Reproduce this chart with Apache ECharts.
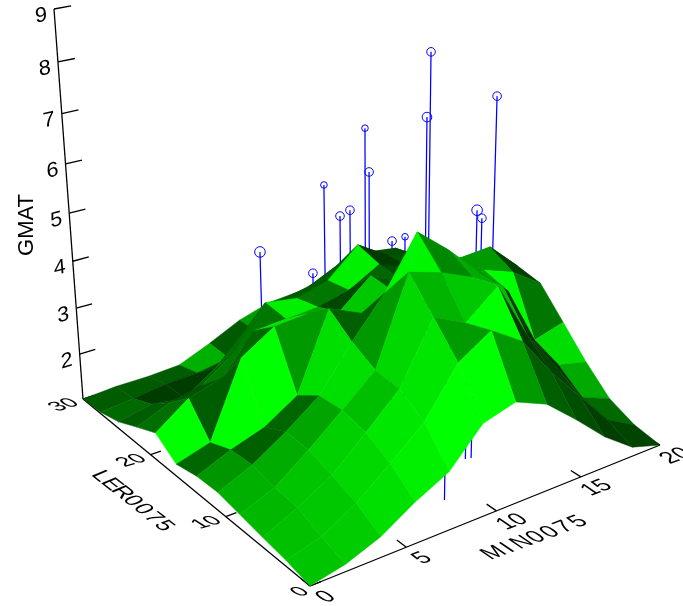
<!DOCTYPE html>
<html><head><meta charset="utf-8"><style>html,body{margin:0;background:#fff}#c{width:683px;height:606px}</style>
<script src="https://cdn.jsdelivr.net/npm/echarts@6/dist/echarts.min.js"></script></head><body><div id="c"></div><script>
const xTicks=[0,5,10,15,20], yTicks=[0,10,20,30], zTicks=[1,2,3,4,5,6,7,8,9];
const z0=[1,1.15,1.42,1.85,2.2,2.92,3.11,2.83,2.27,1.67,1.2,1];
const z1=[1.12,1.31,1.73,2.27,2.85,3.8,4.22,3.79,2.93,2.19,1.46,1.11];
const z2=[1.2,1.53,1.93,2.55,3.19,4.4,4.07,4.6,3.4,2.54,1.62,1.36];
const z3=[1.29,1.58,2.1,2.67,3.25,5,4.79,4.5,4.11,2.82,2.02,1.86];
const z4=[1.38,1.69,2.13,2.64,3.52,4.3,5.33,4.78,4.13,3.54,2.26,2.44];
const z5=[1.36,1.66,1.89,2.32,3.9,3.6,3.85,4,3.6,3.7,3.46,3.02];
const z6=[1.26,1.47,3.02,3.45,3.5,3.34,3.9,3.6,3.4,3.7,3.74,3.13];
const z7=[1.58,2.08,2.28,3.06,3.1,3.15,3.31,3.67,3.4,3.3,3.2,3];
const z8=[1.37,1.66,1.82,2.3,3.16,3.05,3.24,3.82,3.4,3.2,3,2.5];
const z9=[1.15,1.3,1.2,1.65,2.3,2.7,2.8,3.1,3.2,3.1,2.7,2.2];
const z10=[1.03,1.1,1.2,1.22,1.34,1.7,2,2.2,2.5,2.5,2.2,1.8];
const z11=[1,1.05,1.05,1.09,1.37,1.69,1.89,1.94,2.1,2.2,1.9,1.5];
const surface=[z0,z1,z2,z3,z4,z5,z6,z7,z8,z9,z10,z11];
const stemX=[13.67,16.16,12.33,12.44,11.38,13,11.96,13.81,11.84,12.06,12.76,12.26,8.84,12.18,12.77,11.68,8.68];
const stemY=[15.05,12.37,12.78,20.26,17.53,26.81,6.47,9.36,20.9,22.66,16.04,16.58,26.12,26.64,16.03,6.59,3.14];
const stemZ=[8.25,7.4,7.28,6.44,5.88,4.63,6.07,5.46,4.74,4.43,4.55,4.46,3.65,2.77,3.96,4.32,4.06];
const stemSize=[4.3,4.3,4.8,3.3,4.3,3.3,5.3,4.3,4.3,4.3,3.3,4.3,5.3,4.3,3.3,3.3,3.3];
// green level of a cell: "i,j":level
const cellShade={"0,0":196,"1,0":204,"2,0":224,"3,0":240,"4,0":255,"5,0":255,"6,0":153,"7,0":95,"8,0":79,"9,0":63,"10,0":68,
"0,1":192,"1,1":200,"2,1":216,"3,1":232,"4,1":230,"5,1":155,"6,1":255,"7,1":58,"8,1":68,"9,1":60,"10,1":106,
"0,2":184,"1,2":196,"2,2":208,"3,2":190,"4,2":216,"5,2":180,"6,2":200,"7,2":190,"8,2":48,"9,2":48,"10,2":170,
"0,3":176,"1,3":172,"2,3":165,"3,3":224,"4,3":153,"5,3":245,"6,3":136,"7,3":170,"8,3":48,"9,3":44,"10,3":221,
"0,4":150,"1,4":96,"2,4":102,"3,4":224,"4,4":96,"5,4":170,"6,4":150,"7,4":160,"8,4":160,"9,4":255,"10,4":119,
"0,5":102,"1,5":255,"2,5":255,"3,5":153,"4,5":170,"5,5":200,"9,5":153,"8,5":153,"10,5":64,
"0,6":255,"1,6":92,"2,6":102,"3,6":230,"4,6":165,"5,6":72,"9,6":153,"10,6":60,
"0,7":110,"1,7":84,"2,7":120,"3,7":120,"4,7":240,"5,7":120,"6,7":240,
"0,8":92,"1,8":80,"2,8":100,"3,8":110,"4,8":110,"5,8":90,"6,8":90,
"0,9":106,"1,9":60,"2,9":60,"3,9":80,"4,9":90,"0,10":92,"1,10":90,"2,10":92,"3,10":176,"4,10":90};
const N=11;
const O=[310,586],A=[660,445],B=[83,399],T=[54,9],g=.14,h=.18,i3=-.106;
const ax=[(1+g)*A[0]-O[0],(1+g)*A[1]-O[1]],ay=[(1+h)*B[0]-O[0],(1+h)*B[1]-O[1]];
const az=[T[0]*(1+h+i3)-(1+h)*B[0],T[1]*(1+h+i3)-(1+h)*B[1]];
function proj(x,y,z){const a=x/20,b=y/30,c=(z-1)/8,w=1+g*a+h*b+i3*c;
 return [(O[0]+a*ax[0]+b*ay[0]+c*az[0])/w,(O[1]+a*ax[1]+b*ay[1]+c*az[1])/w];}
function svdText(str,cx,cy,e1,e2,font,fill){
 const a=e1[0],b=e1[1],c=e2[0],d=e2[1];
 const E=(a+d)/2,F=(a-d)/2,G=(b+c)/2,H=(b-c)/2,Q=Math.hypot(E,H),R=Math.hypot(F,G);
 const a1=Math.atan2(G,F),a2=Math.atan2(H,E),th=(a2-a1)/2,ph=(a2+a1)/2;
 return {type:'group',x:cx,y:cy,rotation:-ph,scaleX:Q+R,scaleY:Q-R,silent:true,children:[{type:'text',rotation:-th,style:{text:str,x:0,y:0,font:font,fill:fill||'#000',align:'center',verticalAlign:'middle'}}]};}
const FONT='22px "Liberation Sans"';
const floorB=[.95,-.36],floorD=[.9,.62];
function cellColor(i,j){const S=surface;const key=i+','+j;let v;
 if(key in cellShade)v=cellShade[key];else{const p=(S[j][i+1]+S[j+1][i+1]-S[j][i]-S[j+1][i])/2,q=(S[j+1][i]+S[j+1][i+1]-S[j][i]-S[j][i+1])/2;
 const I=.85*(.85*p+.35*q+.55)/Math.hypot(p,q,1);v=Math.round(255*Math.max(.2,Math.min(1,I)));}
 return 'rgb(0,'+v+',0)';}
const cells=[];for(let j=N-1;j>=0;j--)for(let i=N-1;i>=0;i--)cells.push([i,j]);
function xf(i){return i*20/N}function yf(j){return j*30/N}
const base={type:'custom',coordinateSystem:'cartesian2d',silent:true,animation:false,clip:false};
const option={animation:false,grid:{left:0,right:0,top:0,bottom:0},
 xAxis:{type:'value',min:0,max:683,show:false},yAxis:{type:'value',min:0,max:606,inverse:true,show:false},
 series:[
 {...base,name:'stems',data:stemX.map((s,k)=>k),z:1,renderItem(p,api){const k=api.value(0);
   const top=api.coord(proj(stemX[k],stemY[k],stemZ[k])),bot=api.coord(proj(stemX[k],stemY[k],1));
   return {type:'group',children:[{type:'line',shape:{x1:top[0],y1:top[1],x2:bot[0],y2:bot[1]},style:{stroke:'#0000ff',lineWidth:1.25}},
    {type:'circle',shape:{cx:top[0],cy:top[1],r:stemSize[k]},style:{stroke:'#0000ff',fill:'none',lineWidth:1}}]};}},
 {...base,name:'axes',data:[0],z:2,renderItem(p,api){const L=(a,b)=>({type:'line',shape:{x1:a[0],y1:a[1],x2:b[0],y2:b[1]},style:{stroke:'#000',lineWidth:1.3}});
   const c=[];c.push(L(proj(0,0,1),proj(20,0,1)),L(proj(0,0,1),proj(0,30,1)),L(proj(0,30,1),proj(0,30,9)));
   xTicks.forEach(t=>c.push(L(proj(t,0,1),proj(t,1.05,1))));
   yTicks.forEach(t=>c.push(L(proj(0,t,1),proj(.55,t,1))));
   zTicks.forEach(t=>c.push(L(proj(0,30,t),proj(.85,30,t))));
   return {type:'group',children:c};}},
 {...base,name:'surface',data:cells.map((c,k)=>k),z:3,renderItem(p,api){const [i,j]=cells[api.value(0)];
   const pts=[[i,j],[i+1,j],[i+1,j+1],[i,j+1]].map(q=>api.coord(proj(xf(q[0]),yf(q[1]),surface[q[1]][q[0]])));const col=cellColor(i,j);
   return {type:'polygon',shape:{points:pts},style:{fill:col,stroke:col,lineWidth:.5}};}},
 {...base,name:'labels',data:[0],z:4,renderItem(p,api){const c=[];
   const fb=floorB,fd=floorD;
   xTicks.forEach(t=>{const q=proj(t,0,1);c.push(svdText(String(t),q[0]+16,q[1]+11,fb,fd,FONT));});
   yTicks.forEach(t=>{const q=proj(0,t,1);const s=String(t);c.push(svdText(s,q[0]-(s.length>1?19:10),q[1]+6,[.97,-.28],[.8,.5],FONT));});
   zTicks.slice(1).forEach(t=>{const q=proj(0,30,t);const q2=proj(1,30,t);const dx=q2[0]-q[0],dy=q2[1]-q[1],l=Math.hypot(dx,dy);c.push(svdText(String(t),q[0]-13,q[1]+7,[dx/l,dy/l],[0.07,.95],FONT));});
   const chars=(s,sx,sy,dx,dy,e1,e2)=>{[...s].forEach((ch,k)=>c.push(svdText(ch,sx+dx*k,sy+dy*k,e1,e2,FONT)));};
   chars('MIN0075',494,553,14,-5.2,fb,fd);
   chars('LER0075',101,476,10.5,8.3,[.8,.62],[-.95,.4]);
   c.push(svdText('GMAT',27,225,[0,-1],[1,0],'22px "Liberation Sans"'));
   return {type:'group',children:c};}}
 ]};
const ch=echarts.init(document.getElementById('c'),null,{renderer:'canvas'});ch.setOption(option);
</script></body></html>
